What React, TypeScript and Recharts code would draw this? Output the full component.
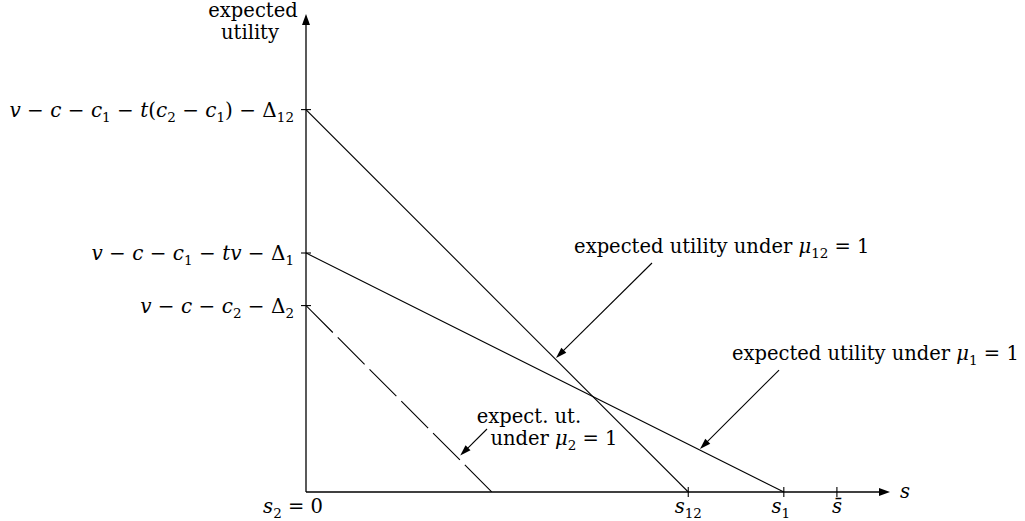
import React from 'react';
import { LineChart, Line, XAxis, YAxis, ReferenceLine, ReferenceDot } from 'recharts';

// ---------- data ----------
const sDomain: [number, number] = [0, 1.1];
const uDomain: [number, number] = [0, 1];
const sTicks = [0, 0.72, 0.9, 1.0];
const uTicks = [0.39, 0.5, 0.8];

const mu12Series = [{ s: 0, u: 0.8 }, { s: 0.72, u: 0 }];
const mu1Series = [{ s: 0, u: 0.5 }, { s: 0.9, u: 0 }];
const mu2Series = [{ s: 0, u: 0.39 }, { s: 0.35, u: 0 }];

// text segments: [text, kind] kind 0 = roman, 1 = italic, 2 = subscript
type Seg = [string, number];
const sTickLabels: Seg[][] = [
  [['s', 1], ['2', 2], [' = 0', 0]],
  [['s', 1], ['12', 2]],
  [['s', 1], ['1', 2]],
  [['s\u0304', 1]],
];
const uTickLabels: Seg[][] = [
  [['v', 1], [' \u2212 ', 0], ['c', 1], [' \u2212 ', 0], ['c', 1], ['2', 2], [' \u2212 \u0394', 0], ['2', 2]],
  [['v', 1], [' \u2212 ', 0], ['c', 1], [' \u2212 ', 0], ['c', 1], ['1', 2], [' \u2212 ', 0], ['tv', 1], [' \u2212 \u0394', 0], ['1', 2]],
  [['v', 1], [' \u2212 ', 0], ['c', 1], [' \u2212 ', 0], ['c', 1], ['1', 2], [' \u2212 ', 0], ['t', 1], ['(', 0], ['c', 1], ['2', 2], [' \u2212 ', 0], ['c', 1], ['1', 2], [') \u2212 \u0394', 0], ['12', 2]],
];
const yAxisTitle = ['expected', 'utility'];
const xAxisTitle: Seg[] = [['s', 1]];
const mu12Text: Seg[] = [['expected utility under ', 0], ['\u03bc', 1], ['12', 2], [' = 1', 0]];
const mu1Text: Seg[] = [['expected utility under ', 0], ['\u03bc', 1], ['1', 2], [' = 1', 0]];
const mu2Text1: Seg[] = [['expect. ut.', 0]];
const mu2Text2: Seg[] = [['under ', 0], ['\u03bc', 1], ['2', 2], [' = 1', 0]];

// annotation placement (data coordinates)
const notes = [
  { text: [mu12Text], at: { s: 0.505, u: 0.5 }, anchor: 'start', from: { s: 0.6517, u: 0.4791 }, to: { s: 0.4709, u: 0.2803 } },
  { text: [mu1Text], at: { s: 0.8024, u: 0.2762 }, anchor: 'start', from: { s: 0.891, u: 0.2552 }, to: { s: 0.7421, u: 0.09 } },
  { text: [mu2Text1, mu2Text2], at: { s: 0.42, u: 0.1444 }, anchor: 'middle', from: { s: 0.3409, u: 0.1318 }, to: { s: 0.2905, u: 0.0762 } },
];

// ---------- style ----------
const FONT = '"DejaVu Serif", serif';
const FS = 19.5;
const TFS = 20;
const SUB = 13.5;
const SUBDY = 5;

function Rich({ segs }: { segs: Seg[] }) {
  let prevSub = false;
  const out: React.ReactNode[] = [];
  segs.forEach((sg, k) => {
    const sub = sg[1] === 2;
    let dy = 0;
    if (sub && !prevSub) dy = SUBDY;
    if (!sub && prevSub) dy = -SUBDY;
    prevSub = sub;
    out.push(
      <tspan key={k} dy={dy || undefined} fontStyle={sg[1] === 1 ? 'italic' : undefined} fontSize={sub ? SUB : undefined}>
        {sg[0]}
      </tspan>
    );
  });
  return <>{out}</>;
}

const textStyle: React.CSSProperties = { whiteSpace: 'pre' };

const sLabelDx = [-13, 0, -3, 0];

const XTick = (p: any) => {
  const { x, y, payload } = p;
  const i = sTicks.indexOf(payload.value);
  return (
    <g>
      {payload.value !== 0 && <line x1={x} x2={x} y1={y - 5} y2={y + 5} stroke="#000" strokeWidth={1.1} />}
      <text x={x + sLabelDx[i]} y={y + 21} textAnchor="middle" fontFamily={FONT} fontSize={FS} fill="#000" style={textStyle}>
        <Rich segs={sTickLabels[i]} />
      </text>
    </g>
  );
};

const YTick = (p: any) => {
  const { x, y, payload } = p;
  const i = uTicks.indexOf(payload.value);
  return (
    <g>
      <line x1={x - 5} x2={x + 5} y1={y} y2={y} stroke="#000" strokeWidth={1.1} />
      <text x={x - 12} y={y + 7} textAnchor="end" fontFamily={FONT} fontSize={TFS} fill="#000" style={textStyle}>
        <Rich segs={uTickLabels[i]} />
      </text>
    </g>
  );
};

const arrowShape = (len: number, half: number, sw: number) => (p: any) => {
  const { x1, y1, x2, y2 } = p;
  const dx = x2 - x1;
  const dy = y2 - y1;
  const L = Math.hypot(dx, dy) || 1;
  const ux = dx / L;
  const uy = dy / L;
  const bx = x2 - ux * len;
  const by = y2 - uy * len;
  const pts = `${x2},${y2} ${bx - uy * half},${by + ux * half} ${bx + uy * half},${by - ux * half}`;
  return (
    <g>
      <line x1={x1} y1={y1} x2={bx + ux * 1} y2={by + uy * 1} stroke="#000" strokeWidth={sw} />
      <polygon points={pts} fill="#000" />
    </g>
  );
};

const noteShape = (segLines: Seg[][], anchor: string) => (p: any) => {
  const { cx, cy } = p;
  return (
    <text x={cx} y={cy} textAnchor={anchor as any} fontFamily={FONT} fontSize={FS} fill="#000" style={textStyle}>
      {segLines.map((segs, k) => (
        <tspan key={k} x={cx + (k === 0 ? 0 : 25)} dy={k === 0 ? 0 : 22}>
          <Rich segs={segs} />
        </tspan>
      ))}
    </text>
  );
};

const YTitle = (p: any) => {
  const vb = p.viewBox || {};
  const right = (vb.x || 0) + (vb.width || 0);
  const top = vb.y || 0;
  return (
    <text fontFamily={FONT} fontSize={FS} fill="#000" textAnchor="middle" style={textStyle}>
      <tspan x={right - 53} y={top + 3}>{yAxisTitle[0]}</tspan>
      <tspan x={right - 56} y={top + 25}>{yAxisTitle[1]}</tspan>
    </text>
  );
};

const XTitle = (p: any) => {
  const vb = p.viewBox || {};
  const right = (vb.x || 0) + (vb.width || 0);
  const top = vb.y || 0;
  return (
    <text x={right + 10} y={top + 6} fontFamily={FONT} fontSize={FS} fill="#000" style={textStyle}>
      <Rich segs={xAxisTitle} />
    </text>
  );
};

export default function App() {
  return (
    <div style={{ position: 'absolute', left: 0, top: 0, width: 1025, height: 521, background: '#fff' }}>
      <LineChart width={1025} height={521} margin={{ top: 14, right: 135, bottom: 0, left: 0 }}>
        <XAxis
          type="number"
          dataKey="s"
          domain={sDomain}
          ticks={sTicks}
          interval={0}
          allowDataOverflow
          axisLine={false}
          tickLine={false}
          tickSize={0}
          tickMargin={0}
          height={29}
          tick={<XTick />}
          label={{ content: <XTitle /> }}
        />
        <YAxis
          type="number"
          dataKey="u"
          domain={uDomain}
          ticks={uTicks}
          interval={0}
          allowDataOverflow
          axisLine={false}
          tickLine={false}
          tickSize={0}
          tickMargin={0}
          width={306}
          tick={<YTick />}
          label={{ content: <YTitle /> }}
        />
        <ReferenceLine segment={[{ x: 0, y: 0 }, { x: 1.1, y: 0 }]} shape={arrowShape(11, 4, 1.3)} />
        <ReferenceLine segment={[{ x: 0, y: 0 }, { x: 0, y: 1 }]} shape={arrowShape(11, 4, 1.3)} />
        <Line data={mu12Series} dataKey="u" type="linear" stroke="#000" strokeWidth={1.1} dot={false} activeDot={false} isAnimationActive={false} />
        <Line data={mu1Series} dataKey="u" type="linear" stroke="#000" strokeWidth={1.1} dot={false} activeDot={false} isAnimationActive={false} />
        <Line data={mu2Series} dataKey="u" type="linear" stroke="#000" strokeWidth={1.1} strokeDasharray="38 7" dot={false} activeDot={false} isAnimationActive={false} />
        {notes.map((n, k) => (
          <ReferenceLine key={'a' + k} segment={[{ x: n.from.s, y: n.from.u }, { x: n.to.s, y: n.to.u }]} shape={arrowShape(11, 3.5, 1.1)} />
        ))}
        {notes.map((n, k) => (
          <ReferenceDot key={'t' + k} x={n.at.s} y={n.at.u} r={0} shape={noteShape(n.text, n.anchor)} />
        ))}
      </LineChart>
    </div>
  );
}
